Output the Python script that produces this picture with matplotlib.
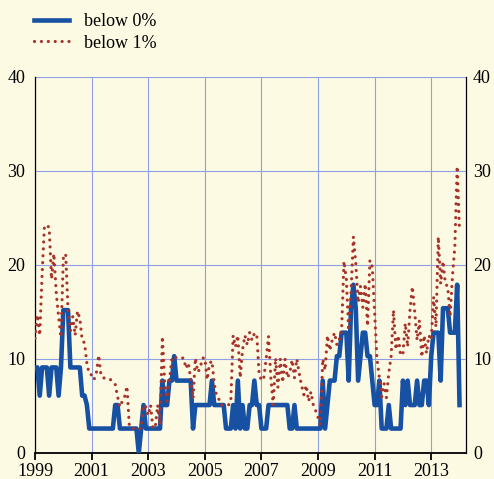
import numpy as np
import matplotlib.pyplot as plt

plt.rcParams['font.family'] = ['Liberation Serif', 'DejaVu Serif']

# share of months (%) with yields below 0% / below 1%, monthly from Jan 1999
b1999 = [9.1, 9.1, 6.1, 9.1, 9.1, 9.1, 6.1, 9.1, 9.1, 9.1, 6.1, 9.1]
b2000 = [15.2, 15.2, 15.2, 9.1, 9.1, 9.1, 9.1, 9.1, 6.1, 6.1, 5.1, 2.6]
b2001 = [2.6, 2.6, 2.6, 2.6, 2.6, 2.6, 2.6, 2.6, 2.6, 2.6, 5.1, 5.1]
b2002 = [2.6, 2.6, 2.6, 2.6, 2.6, 2.6, 2.6, 2.6, 0.0, 2.6, 5.1, 2.6]
b2003 = [2.6, 2.6, 2.6, 2.6, 2.6, 2.6, 7.7, 5.1, 5.1, 7.7, 7.7, 10.3]
b2004 = [7.7, 7.7, 7.7, 7.7, 7.7, 7.7, 7.7, 2.6, 5.1, 5.1, 5.1, 5.1]
b2005 = [5.1, 5.1, 5.1, 7.7, 5.1, 5.1, 5.1, 5.1, 5.1, 2.6, 2.6, 2.6]
b2006 = [5.1, 2.6, 7.7, 2.6, 5.1, 2.6, 2.6, 5.1, 5.1, 7.7, 5.1, 5.1]
b2007 = [2.6, 2.6, 2.6, 5.1, 5.1, 5.1, 5.1, 5.1, 5.1, 5.1, 5.1, 5.1]
b2008 = [2.6, 2.6, 5.1, 2.6, 2.6, 2.6, 2.6, 2.6, 2.6, 2.6, 2.6, 2.6]
b2009 = [2.6, 2.6, 7.7, 2.6, 5.1, 7.7, 7.7, 7.7, 10.3, 10.3, 12.8, 12.8]
b2010 = [12.8, 7.7, 15.4, 17.9, 15.4, 7.7, 10.3, 12.8, 12.8, 10.3, 10.3, 7.7]
b2011 = [5.1, 5.1, 7.7, 2.6, 2.6, 2.6, 5.1, 2.6, 2.6, 2.6, 2.6, 2.6]
b2012 = [7.7, 5.1, 7.7, 5.1, 5.1, 5.1, 7.7, 5.1, 5.1, 7.7, 7.7, 5.1]
b2013 = [10.3, 12.8, 12.8, 12.8, 7.7, 15.4, 15.4, 15.4, 12.8, 12.8, 12.8, 17.9]
b2014 = [5.1]

r1999 = [12.2, 14.7, 12.5, 19.0, 24.2, 24.2, 24.0, 18.5, 21.2, 17.0, 14.5, 12.3]
r2000 = [20.7, 21.2, 15.2, 13.0, 14.5, 12.5, 15.1, 14.3, 12.0, 11.7, 9.5, 8.4]
r2001 = [8.3, 7.8, 8.5, 10.4, 8.2, 8.0, 7.9, 7.8, 7.8, 7.6, 7.3, 6.0]
r2002 = [4.9, 5.5, 6.0, 7.1, 2.8, 2.6, 2.6, 2.6, 2.6, 2.6, 5.1, 4.9]
r2003 = [4.0, 5.1, 2.6, 2.8, 5.1, 3.0, 12.4, 7.4, 5.5, 7.7, 10.0, 10.3]
r2004 = [10.1, 10.1, 10.1, 10.1, 9.0, 9.6, 7.9, 5.8, 10.1, 8.6, 9.0, 10.1]
r2005 = [10.1, 7.8, 9.5, 9.8, 7.4, 6.0, 5.7, 5.1, 5.1, 5.1, 5.1, 5.4]
r2006 = [12.5, 11.3, 12.5, 8.0, 11.0, 12.5, 11.5, 12.8, 12.0, 12.7, 12.7, 8.5]
r2007 = [7.7, 8.0, 10.0, 12.4, 8.0, 5.1, 10.1, 7.0, 10.0, 7.5, 10.0, 8.0]
r2008 = [8.5, 9.9, 8.0, 10.0, 8.5, 7.2, 6.2, 7.2, 5.5, 6.5, 5.1, 4.5]
r2009 = [3.8, 3.0, 10.0, 8.8, 12.5, 10.9, 12.0, 12.8, 11.5, 12.0, 13.0, 20.4]
r2010 = [18.5, 13.0, 17.2, 23.0, 20.2, 16.0, 17.7, 15.5, 18.0, 13.5, 20.5, 19.8]
r2011 = [15.0, 10.0, 8.0, 6.0, 7.4, 5.9, 8.5, 10.3, 15.2, 11.0, 12.5, 10.4]
r2012 = [10.5, 13.8, 11.3, 15.2, 17.7, 15.0, 12.0, 14.1, 10.2, 12.5, 10.6, 12.5]
r2013 = [12.0, 16.6, 13.4, 23.0, 18.0, 20.4, 18.0, 17.7, 14.5, 18.8, 21.9, 30.5]
r2014 = [23.5]

below0 = (b1999 + b2000 + b2001 + b2002 + b2003 + b2004 + b2005 + b2006 + b2007
          + b2008 + b2009 + b2010 + b2011 + b2012 + b2013 + b2014)
below1 = (r1999 + r2000 + r2001 + r2002 + r2003 + r2004 + r2005 + r2006 + r2007
          + r2008 + r2009 + r2010 + r2011 + r2012 + r2013 + r2014)
dates = 1999 + np.arange(len(below0)) / 12

bg = '#fdfae4'
grid_col = '#8e9fe6'

fig = plt.figure(figsize=(4.94, 4.79), dpi=100, facecolor=bg)
ax = fig.add_axes([0.0709, 0.0543, 0.8725, 0.785], facecolor=bg)

ax.plot(dates, below0, color='#1751a3', lw=3.3, label='below 0%', zorder=3)
ax.plot(dates, below1, color='#a8332a', lw=2.3, ls=(0, (0.01, 2.15)),
        dash_capstyle='round', label='below 1%', zorder=4)

ax.set_xlim(1999, 2014.23)
ax.set_ylim(0, 40)
ax.set_xticks(range(1999, 2014, 2))
ax.set_yticks(range(0, 41, 10))
ax.grid(color=grid_col, lw=0.8)
ax.set_axisbelow(True)

ax.spines['top'].set_visible(False)
ax.spines['right'].set_visible(False)
ax.spines['left'].set_linewidth(0.9)
ax.spines['bottom'].set_linewidth(1.3)
ax.tick_params(axis='x', direction='out', length=5, width=1.3, labelsize=13, pad=2)
ax.tick_params(axis='y', length=0, labelsize=13, pad=7)

# right-hand labels
ax2 = ax.twinx()
ax2.set_ylim(0, 40)
ax2.set_yticks(range(0, 41, 10))
ax2.tick_params(axis='y', length=0, labelsize=13, pad=5)
for s in ['top', 'left', 'bottom']:
    ax2.spines[s].set_visible(False)
ax2.spines['right'].set_linewidth(0.9)

fig.legend(*ax.get_legend_handles_labels(), loc='upper left',
           bbox_to_anchor=(25 / 494, 1 - 4 / 479), frameon=False, borderpad=0,
           handlelength=1.95, handletextpad=0.8, labelspacing=0.25, fontsize=13)

fig.savefig('out.png', dpi=100, facecolor=bg)
